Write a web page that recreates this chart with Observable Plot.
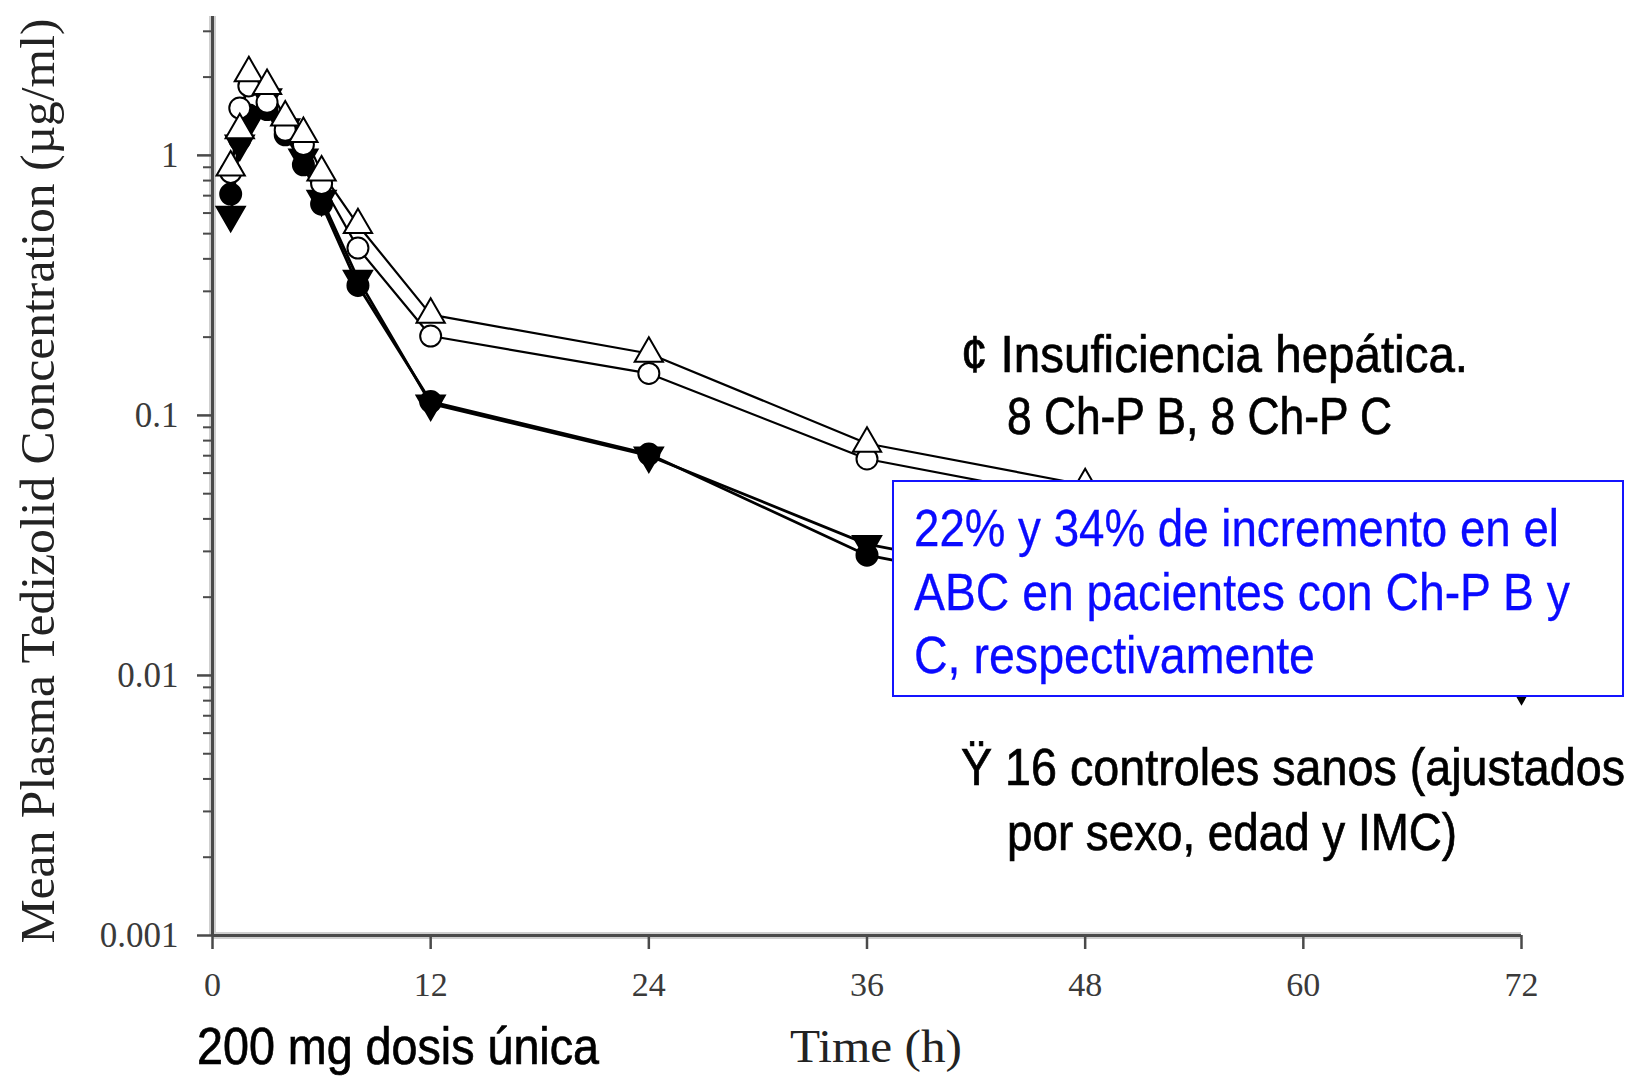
<!DOCTYPE html>
<html>
<head>
<meta charset="utf-8">
<script src="https://cdn.jsdelivr.net/npm/d3@7"></script>
<script src="https://cdn.jsdelivr.net/npm/@observablehq/plot@0.6"></script>
<style>
  html, body { margin: 0; padding: 0; background: #fff; }
  #chart { width: 1641px; height: 1078px; }
</style>
</head>
<body>
<div id="chart"></div>
<script>
// Sampling times (h) after a single 200 mg dose
const hours = [1, 1.5, 2, 3, 4, 5, 6, 8, 12, 24, 36, 48, 72];

// Mean plasma tedizolid concentration (µg/ml)
const hepaticC  = [0.90, 1.25, 2.07, 1.85, 1.40, 1.21, 0.86, 0.54, 0.244, 0.173, 0.078, 0.054, 0.013];  // open triangles
const hepaticB  = [0.86, 1.52, 1.85, 1.60, 1.25, 1.10, 0.78, 0.44, 0.202, 0.145, 0.068, 0.047, 0.012];  // open circles
const controlsB = [0.71, 1.15, 1.43, 1.50, 1.20, 0.92, 0.65, 0.316, 0.113, 0.071, 0.029, 0.020, 0.0095]; // filled circles
const controlsC = [0.59, 1.11, 1.35, 1.67, 1.28, 0.98, 0.68, 0.335, 0.111, 0.070, 0.032, 0.022, 0.009];  // filled triangles

// Axis ticks
const xTicks = [0, 12, 24, 36, 48, 60, 72];
const yTicks = [0.001, 0.01, 0.1, 1];
const yTickLabels = ["0.001", "0.01", "0.1", "1"];
const yMax = 3.42;

const series = [
  {name: "controlsC", values: controlsC, symbol: "triangle", fill: "black", rotate: 180, width: 2.8},
  {name: "controlsB", values: controlsB, symbol: "circle",   fill: "black", rotate: 0,   width: 2.8},
  {name: "hepaticB",  values: hepaticB,  symbol: "circle",   fill: "white", rotate: 0,   width: 2.2},
  {name: "hepaticC",  values: hepaticC,  symbol: "triangle", fill: "white", rotate: 0,   width: 2.2}
];
const rows = series.flatMap(s => hours.map((h, i) => ({series: s.name, hour: h, conc: s.values[i]})));

// Minor log ticks (2–9 within each decade)
const minorTicks = [];
for (let e = -3; e <= 0; e++) for (let k = 2; k <= 9; k++) {
  const v = k * Math.pow(10, e);
  if (v <= yMax) minorTicks.push(v);
}
const yLabel = new Map(yTicks.map((t, i) => [t, yTickLabels[i]]));

const serif = "'Liberation Serif', 'Times New Roman', serif";
const sans = "'Liberation Sans Narrow', 'Arial Narrow', 'Liberation Sans', Arial, sans-serif";
const axisColor = "#4a4a4a";

const chart = Plot.plot({
  width: 1641,
  height: 1078,
  marginLeft: 212,
  marginRight: 120,
  marginTop: 16,
  marginBottom: 143,
  x: {domain: [0, 72], axis: null, label: null},
  y: {type: "log", domain: [0.001, yMax], axis: null, label: null},
  marks: [
    // soft halo under the axis lines
    Plot.ruleX([0], {y1: 0.001, y2: yMax, stroke: "#cfcfcf", strokeWidth: 7}),
    Plot.ruleY([0.001], {x1: 0, x2: 72, stroke: "#cfcfcf", strokeWidth: 7}),
    Plot.ruleX([0], {y1: 0.001, y2: yMax, stroke: axisColor, strokeWidth: 3}),
    Plot.ruleY([0.001], {x1: 0, x2: 72, stroke: axisColor, strokeWidth: 3}),
    Plot.axisY(minorTicks, {tickSize: 9, tickFormat: () => "", stroke: axisColor, strokeWidth: 2, label: null}),
    Plot.axisY(yTicks, {
      tickSize: 15, tickPadding: 19, tickFormat: d => yLabel.get(d),
      stroke: axisColor, strokeWidth: 2.5, fill: "#3a3a3a", fontSize: 35, fontFamily: serif, label: null
    }),
    Plot.axisX(xTicks, {
      tickSize: 14, tickPadding: 22, stroke: axisColor, strokeWidth: 2.5,
      fill: "#3a3a3a", fontSize: 34, fontFamily: serif, label: null
    }),
    ...series.map(s => Plot.line(rows.filter(r => r.series === s.name), {
      x: "hour", y: "conc", stroke: "black", strokeWidth: s.width
    })),
    ...series.map(s => Plot.dot(rows.filter(r => r.series === s.name), {
      x: "hour", y: "conc", symbol: s.symbol, r: 10.5, rotate: s.rotate,
      fill: s.fill, stroke: "black", strokeWidth: 2
    }))
  ]
});

document.getElementById("chart").appendChild(chart);

// Titles and notes drawn on top of the plot
const svg = d3.select(chart);
const g = svg.append("g").attr("text-anchor", "start");

g.append("text")
  .attr("transform", "translate(37,481) rotate(-90)")
  .attr("text-anchor", "middle")
  .attr("dominant-baseline", "central")
  .attr("textLength", 925).attr("lengthAdjust", "spacingAndGlyphs")
  .style("font", `49px ${serif}`)
  .attr("fill", "#222")
  .text("Mean Plasma Tedizolid Concentration (µg/ml)");

g.append("text")
  .attr("x", 876).attr("y", 1062)
  .attr("text-anchor", "middle")
  .attr("textLength", 172).attr("lengthAdjust", "spacingAndGlyphs")
  .style("font", `46px ${serif}`)
  .attr("fill", "#222")
  .text("Time (h)");

// Left-aligned note; the width keeps the condensed look of the slide text
const note = (x, y, text, width, color = "black", heavy = 0.7) =>
  g.append("text").attr("x", x).attr("y", y)
    .attr("text-anchor", "start")
    .attr("textLength", width).attr("lengthAdjust", "spacingAndGlyphs")
    .style("font", `52px ${sans}`)
    .attr("fill", color)
    .attr("stroke", color)
    .attr("stroke-width", heavy)
    .text(text);

note(197, 1064, "200 mg dosis única", 402);
note(961, 372, "¢ Insuficiencia hepática.", 507);
note(1007, 434, "8 Ch-P B, 8 Ch-P C", 385);
note(961, 785, "Ÿ 16 controles sanos (ajustados", 664);
note(1007, 850, "por sexo, edad y IMC)", 450);

g.append("rect")
  .attr("x", 893).attr("y", 481).attr("width", 730).attr("height", 215)
  .attr("fill", "white").attr("stroke", "#1414ff").attr("stroke-width", 2);

const blue = "#0a0aff";
note(914, 546, "22% y 34% de incremento en el", 645, blue, 0.3);
note(914, 610, "ABC en pacientes con Ch-P B y", 656, blue, 0.3);
note(914, 673, "C, respectivamente", 401, blue, 0.3);
</script>
</body>
</html>
